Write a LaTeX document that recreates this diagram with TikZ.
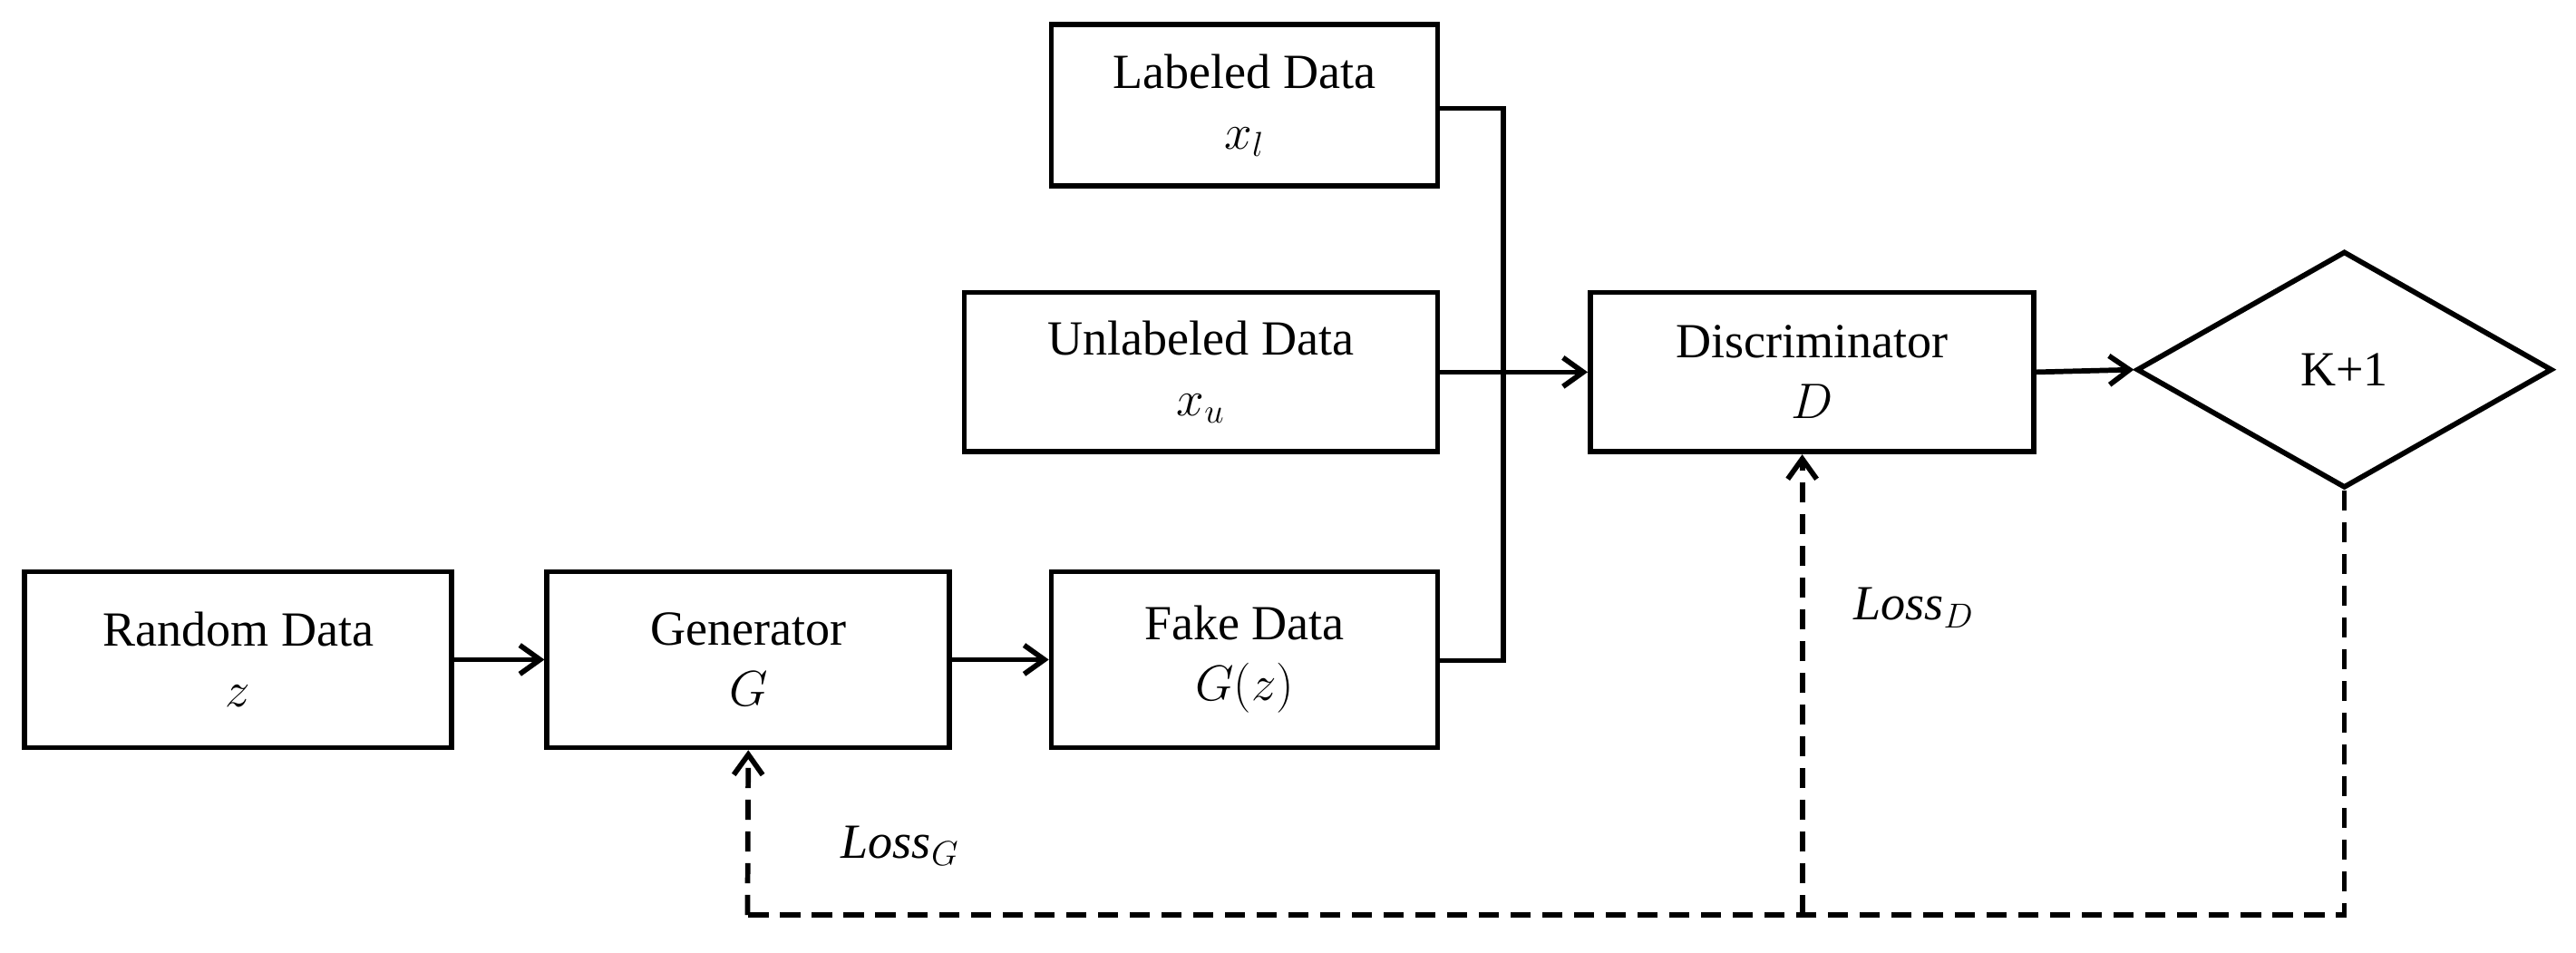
\documentclass[tikz,border=0pt]{standalone}
\usepackage{fontspec}
\setmainfont{Liberation Serif}
\usetikzlibrary{shapes.geometric,arrows.meta}
\begin{document}
\begin{tikzpicture}[x=0.02cm,y=-0.02cm,
  box/.style={draw,line width=1.8pt,inner sep=0pt,align=center,font=\fontsize{17}{21}\selectfont},
  conn/.style={line width=1.8pt,-{Straight Barb[length=7pt,width=10pt,line width=1.8pt]}},
  dconn/.style={conn,dash pattern=on 7pt off 4pt},
  every node/.style={font=\fontsize{17}{21}\selectfont}]
\useasboundingbox (0,0) rectangle (1568,580);
\node[box,minimum width=235*0.02cm,minimum height=98*0.02cm] (lab) at (757.5,64) {Labeled Data\\$x_l$};
\node[box,minimum width=288*0.02cm,minimum height=97*0.02cm] (unl) at (731,226.5) {Unlabeled Data\\$x_u$};
\node[box,minimum width=260*0.02cm,minimum height=107*0.02cm] (rnd) at (145,401.5) {Random Data\\$z$};
\node[box,minimum width=245*0.02cm,minimum height=107*0.02cm] (gen) at (455.5,401.5) {Generator\\$G$};
\node[box,minimum width=235*0.02cm,minimum height=107*0.02cm] (fake) at (757.5,401.5) {Fake Data\\$G(z)$};
\node[box,minimum width=270*0.02cm,minimum height=97*0.02cm] (dis) at (1103,226.5) {Discriminator\\$D$};
\node[draw,line width=1.8pt,diamond,aspect=1.76,minimum width=253*0.02cm,minimum height=144*0.02cm,inner sep=0pt] (k) at (1427,225) {K+1};
\coordinate (j) at (915,226.5);
\draw[line width=1.8pt] (lab.east |- 0,66) -| (915,402) -- (fake.east |- 0,402);
\draw[conn] (unl.east) -- (dis.west);
\draw[conn] (dis.east) -- (k.west);
\draw[conn] (rnd.east) -- (gen.west);
\draw[conn] (gen.east) -- (fake.west);
\coordinate (b) at (1427,557);
\coordinate (bd) at (1097,557);
\coordinate (bg) at (455,557);
\draw[line width=1.8pt,dash pattern=on 7pt off 4pt] (k.south) -- (b) -- (bg);
\draw[dconn] (bg) -- (gen.south);
\draw[dconn] (bd) -- (dis.south -| bd);
\node at (1165,370) {$\mathit{Loss}_D$};
\node at (548,515) {$\mathit{Loss}_G$};
\end{tikzpicture}
\end{document}
